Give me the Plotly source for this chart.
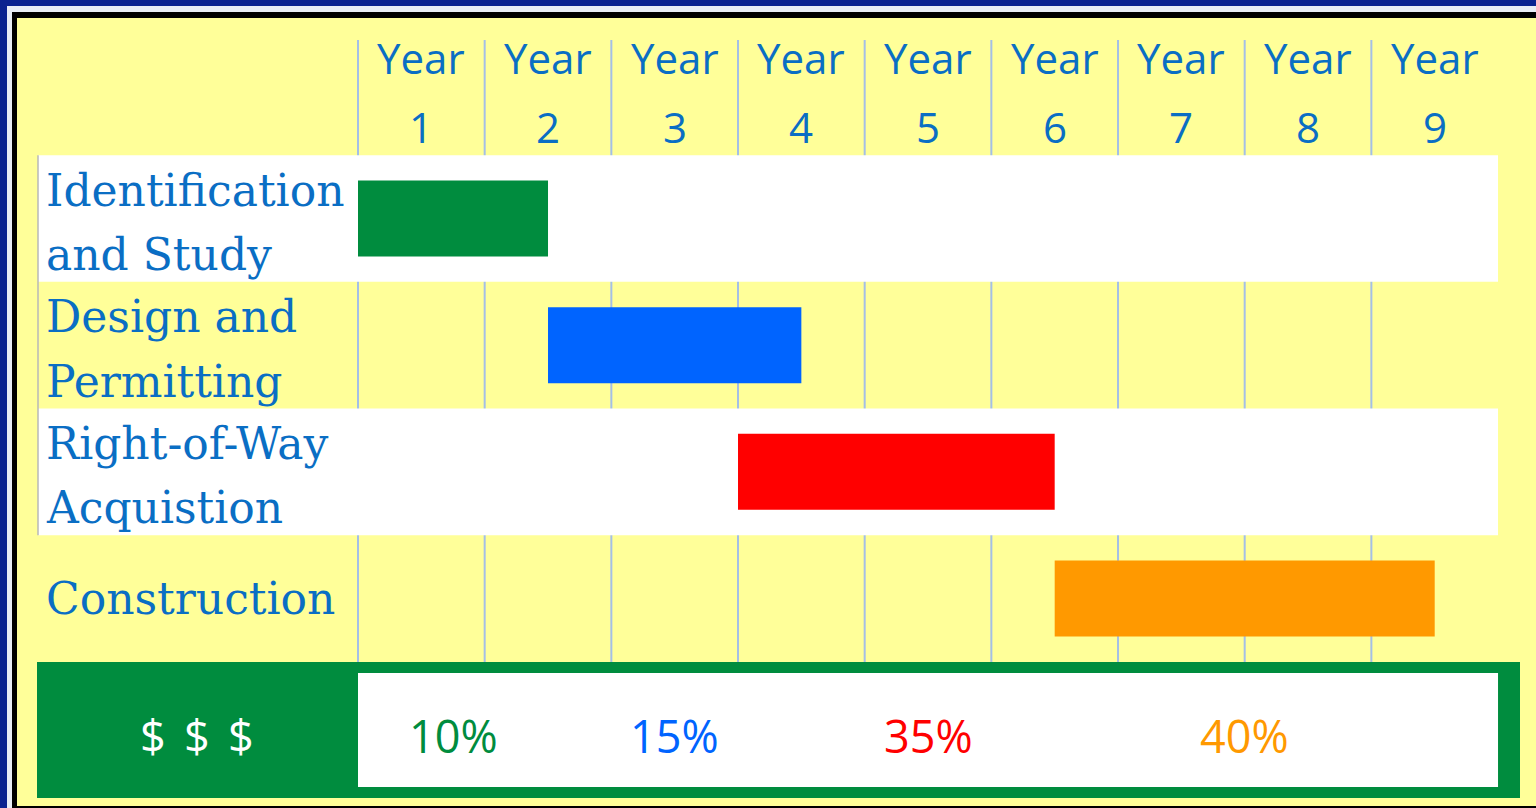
import plotly.graph_objects as go

# ---------------- data ----------------
tasks = ["Identification<br>and Study", "Design and<br>Permitting",
         "Right-of-Way<br>Acquistion", "Construction"]
start_years = [0.0, 1.5, 3.0, 5.5]      # years elapsed from start of Year 1
end_years = [1.5, 3.5, 5.5, 8.5]
bar_colors = ["#008C3E", "#0064FF", "#FF0000", "#FF9900"]
cost_shares = ["10%", "15%", "35%", "40%"]
year_numbers = [1, 2, 3, 4, 5, 6, 7, 8, 9]
money_label = "$ $ $"

W, H = 1536, 808
COL = 126.67          # px per year
X0 = 358              # px of start of Year 1
ROW = 126.67          # px per row
Y0 = 218.5            # px of centre of first task row

def px(x):
    return x / W

def py(y):
    return 1 - y / H

YELLOW = "#FFFF99"
TEXT_BLUE = "#0A6EC4"
GREEN = "#008C3E"
GRID = "#A4BFE6"

fig = go.Figure()

durations = [e - s for s, e in zip(start_years, end_years)]
for i in range(len(tasks)):
    fig.add_trace(go.Bar(
        y=[i], x=[durations[i]], base=[start_years[i]], orientation="h",
        width=0.6, marker=dict(color=bar_colors[i], line=dict(width=0)),
        showlegend=False, hoverinfo="skip"))

shapes = []
# outer frame pieces (paper)
shapes.append(dict(type="rect", xref="paper", yref="paper", x0=px(7), x1=1.01,
                   y0=-0.01, y1=py(6), fillcolor="#E9EEF6", line=dict(width=0), layer="below"))
shapes.append(dict(type="rect", xref="paper", yref="paper", x0=px(12), x1=1.01,
                   y0=-0.01, y1=py(12), fillcolor="#000000", line=dict(width=0), layer="below"))
shapes.append(dict(type="rect", xref="paper", yref="paper", x0=px(17), x1=1.01,
                   y0=py(806), y1=py(18), fillcolor=YELLOW, line=dict(width=0), layer="below"))
# money band green frame
shapes.append(dict(type="rect", xref="paper", yref="paper", x0=px(37), x1=px(1520),
                   y0=py(798), y1=py(662), fillcolor=GREEN, line=dict(width=0), layer="below"))

ncols = len(year_numbers)
nrows = len(tasks)
# white row bands (rows 0 and 2)
for r in range(0, nrows, 2):
    shapes.append(dict(type="rect", xref="x", yref="y", x0=(38 - X0) / COL, x1=ncols,
                       y0=r - 0.5, y1=r + 0.5, fillcolor="white", line=dict(width=0), layer="below"))
# faint left line of label column
shapes.append(dict(type="line", xref="x", yref="y", x0=(38 - X0) / COL, x1=(38 - X0) / COL,
                   y0=-0.5, y1=nrows - 1.5, line=dict(color="#B8B8B8", width=1.5), layer="below"))
# inner white of money band
shapes.append(dict(type="rect", xref="x", yref="paper", x0=0, x1=ncols,
                   y0=py(787), y1=py(673), fillcolor="white", line=dict(width=0), layer="below"))
# vertical grid lines at year boundaries
for k in range(ncols):
    shapes.append(dict(type="line", xref="x", yref="paper", x0=k, x1=k,
                       y0=py(662), y1=py(40), line=dict(color=GRID, width=2), layer="below"))

annotations = []
# year header
for k, n in enumerate(year_numbers):
    annotations.append(dict(x=k + 0.5, y=py(58), xref="x", yref="paper", text="Year",
                            showarrow=False, xanchor="center", yanchor="middle",
                            font=dict(family="Open Sans", size=42, color=TEXT_BLUE)))
    annotations.append(dict(x=k + 0.5, y=py(126), xref="x", yref="paper", text=str(n),
                            showarrow=False, xanchor="center", yanchor="middle",
                            font=dict(family="Open Sans", size=42, color=TEXT_BLUE)))
# task labels (one annotation per line for line-spacing control)
for i, t in enumerate(tasks):
    lines = t.split("<br>")
    if len(lines) == 1:
        offsets = [0.0]
    else:
        offsets = [0.03 - 0.255, 0.03 + 0.255]
    for line, off in zip(lines, offsets):
        annotations.append(dict(x=px(44), y=i + off, xref="paper", yref="y", text=line,
                                showarrow=False, xanchor="left", yanchor="middle", align="left",
                                font=dict(family="DejaVu Serif", size=44, color=TEXT_BLUE)))
# money band labels
money_y = py(735)
for j, sym in enumerate(money_label.split()):
    annotations.append(dict(x=px(153 + 44 * j), y=money_y, xref="paper", yref="paper", text=sym,
                            showarrow=False, xanchor="center", yanchor="middle",
                            font=dict(family="Open Sans", size=45, color="white")))
prev_end = [start_years[0]] + end_years[:-1]
for i, s in enumerate(cost_shares):
    cx = (prev_end[i] + end_years[i]) / 2
    annotations.append(dict(x=cx, y=money_y, xref="x", yref="paper", text=s,
                            showarrow=False, xanchor="center", yanchor="middle",
                            font=dict(family="Open Sans", size=45, color=bar_colors[i])))

fig.update_layout(
    width=W, height=H, autosize=False,
    margin=dict(l=0, r=0, t=0, b=0),
    paper_bgcolor="#0A2390", plot_bgcolor="rgba(0,0,0,0)",
    shapes=shapes, annotations=annotations,
    barmode="overlay", showlegend=False,
    xaxis=dict(range=[-X0 / COL, (W - X0) / COL], visible=False, fixedrange=True),
    yaxis=dict(range=[(H - Y0) / ROW, -Y0 / ROW], visible=False, fixedrange=True),
)

fig.write_html("out.html", config={"displayModeBar": False},
               post_script="document.body.style.margin='0px';document.body.style.overflow='hidden';")
